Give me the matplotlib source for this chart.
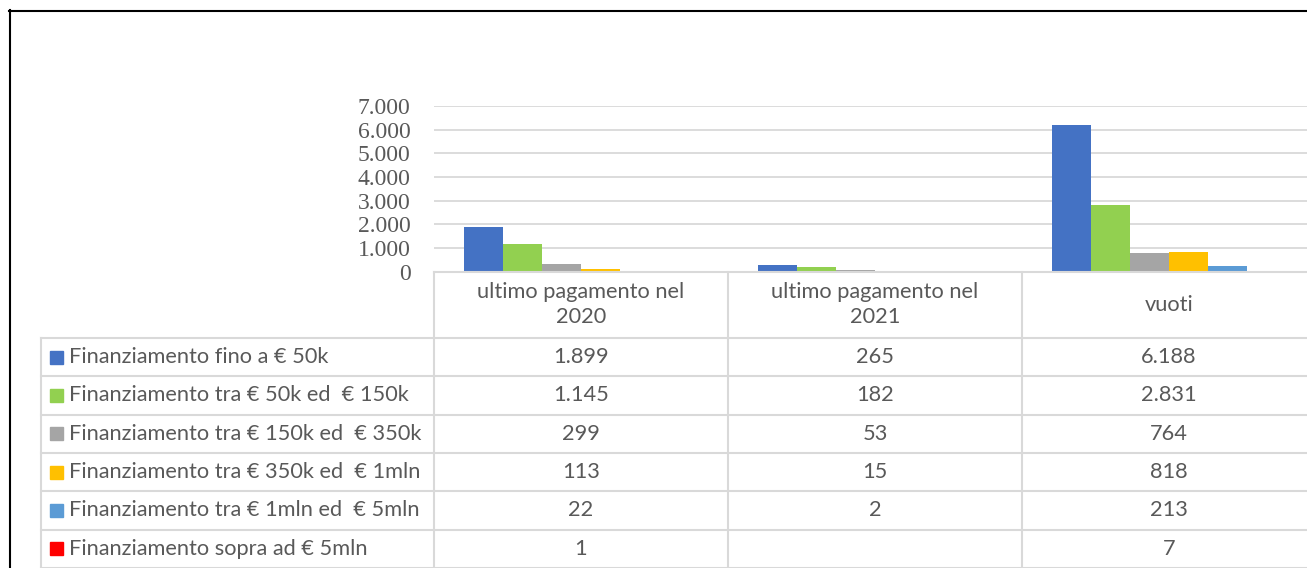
import numpy as np
import matplotlib.pyplot as plt
from matplotlib.patches import Rectangle

# dati per fascia di finanziamento
categorie = ["ultimo pagamento nel\n2020", "ultimo pagamento nel\n2021", "vuoti"]
serie = ["Finanziamento fino a € 50k",
         "Finanziamento tra € 50k ed  € 150k",
         "Finanziamento tra € 150k ed  € 350k",
         "Finanziamento tra € 350k ed  € 1mln",
         "Finanziamento tra € 1mln ed  € 5mln",
         "Finanziamento sopra ad € 5mln"]
fino_50k = [1899, 265, 6188]
tra_50k_150k = [1145, 182, 2831]
tra_150k_350k = [299, 53, 764]
tra_350k_1mln = [113, 15, 818]
tra_1mln_5mln = [22, 2, 213]
sopra_5mln = [1, None, 7]
valori = [fino_50k, tra_50k_150k, tra_150k_350k, tra_350k_1mln, tra_1mln_5mln, sopra_5mln]
colori = ["#4472C4", "#92D050", "#A5A5A5", "#FFC000", "#5B9BD5", "#FF0000"]

def fmt(v):
    return "" if v is None else f"{v:,}".replace(",", ".")

W, H = 1307, 568
grigio = "#595959"
bordo = "#D9D9D9"
fig = plt.figure(figsize=(W / 100, H / 100), dpi=100)

# area del grafico a colonne
x0, y0 = 434, 271.5
colw = 294
ax = fig.add_axes([x0 / W, (H - y0) / H, 3 * colw / W, 165.5 / H])
x = np.arange(len(categorie))
w = 39 / colw
for i, (vals, c) in enumerate(zip(valori, colori)):
    h = [0 if v is None else v for v in vals]
    ax.bar(x + (i - 2.5) * w, h, w, color=c, zorder=3)
ax.set_xlim(-0.5, 2.5)
ax.set_ylim(0, 7000)
ticks = np.arange(0, 7001, 1000)
ax.set_yticks(ticks)
ax.set_yticklabels([fmt(int(t)) for t in ticks], family="Liberation Serif",
                   fontsize=17, color=grigio)
ax.tick_params(axis="y", length=0, pad=17)
ax.set_xticks([])
ax.yaxis.grid(True, color=bordo, lw=1.3)
for s in ax.spines.values():
    s.set_visible(False)

# tabella dati sotto il grafico
tb = fig.add_axes([0, 0, 1, 1])
tb.set_xlim(0, W)
tb.set_ylim(H, 0)
tb.axis("off")
tb.patch.set_alpha(0)
tb.set_zorder(5)

righe = [338 + 38.3 * k for k in range(7)]
x_leg = 41
x_col = [x0 + colw * k for k in range(4)]
tb.plot([x0, x_col[-1]], [y0, y0], color=bordo, lw=1.5)
for yr in righe:
    tb.plot([x_leg, x_col[-1]], [yr, yr], color=bordo, lw=1.5)
tb.plot([x_leg, x_leg], [righe[0], righe[-1]], color=bordo, lw=1.5)
for xc in x_col:
    tb.plot([xc, xc], [y0, righe[-1]], color=bordo, lw=1.5)

font = dict(family="Lato", fontsize=15.7, color=grigio)
for j, cat in enumerate(categorie):
    tb.text(x0 + colw * (j + 0.5), (y0 + righe[0]) / 2, cat, ha="center", va="center",
            linespacing=1.3, **font)
for i, (nome, vals, c) in enumerate(zip(serie, valori, colori)):
    ym = (righe[i] + righe[i + 1]) / 2
    tb.add_patch(Rectangle((50, ym - 6.5), 13, 13, color=c))
    tb.text(69, ym, nome, ha="left", va="center", **font)
    for j, v in enumerate(vals):
        tb.text(x0 + colw * (j + 0.5), ym, fmt(v), ha="center", va="center", **font)

# cornice esterna
tb.plot([9.5, 9.5], [10, H], color="black", lw=1.5)
tb.plot([9, W], [10.5, 10.5], color="black", lw=1.5)

fig.savefig("out.png", dpi=100)
